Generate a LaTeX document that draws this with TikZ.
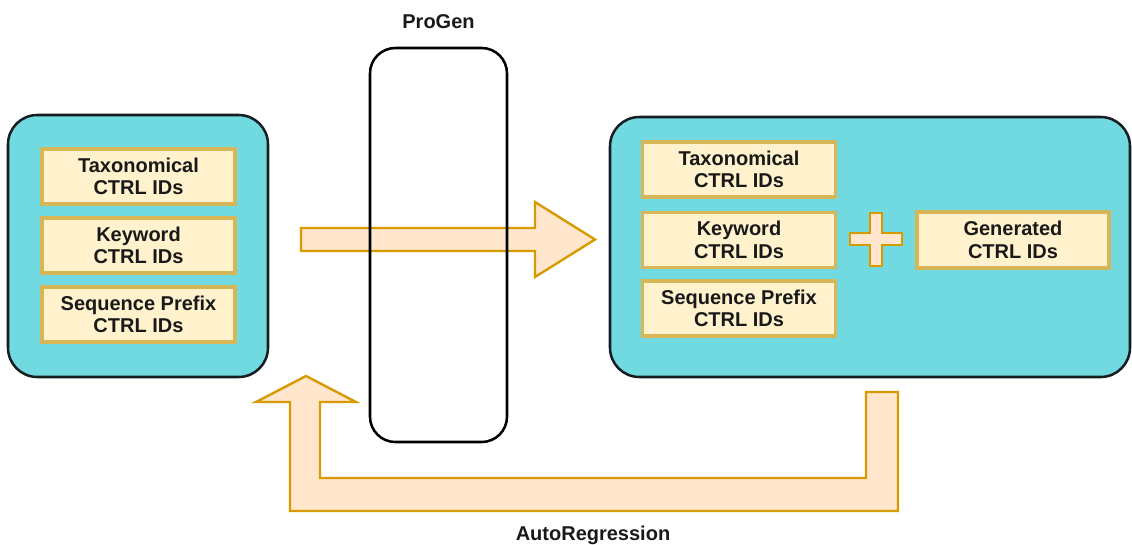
\documentclass[tikz,border=0pt]{standalone}
\usepackage{fontspec}
\setmainfont{Liberation Sans}
\definecolor{cyanfill}{RGB}{113,218,224}
\definecolor{darkstroke}{RGB}{22,30,34}
\definecolor{boxfill}{HTML}{FFF2CC}
\definecolor{boxstroke}{HTML}{D6B656}
\definecolor{arrfill}{HTML}{FFE6CC}
\definecolor{arrstroke}{HTML}{D79B00}
\tikzset{
  container/.style={draw=darkstroke, fill=cyanfill, line width=1.9pt, rounded corners=22pt, rectangle, inner sep=0pt},
  idbox/.style={draw=boxstroke, fill=boxfill, line width=2.7pt, rectangle, inner sep=0pt,
    minimum width=144.75pt, minimum height=41.25pt, align=center,
    font=\fontsize{15}{17}\selectfont\bfseries, text=black!90},
  bigarrow/.style={draw=arrstroke, fill=arrfill, line width=1.8pt, line join=miter},
  progenbox/.style={draw=black, line width=1.9pt, rounded corners=19pt, rectangle, inner sep=0pt},
  lbl/.style={font=\fontsize{15}{17}\selectfont\bfseries, text=black!90, inner sep=0pt}
}
\begin{document}
\begin{tikzpicture}[x=0.75pt,y=-0.75pt]
\path[use as bounding box] (0,0) rectangle (1132,544);
% containers
\node[container, minimum width=195pt, minimum height=196.5pt] (left) at (138,246) {};
\node[container, minimum width=390pt, minimum height=195pt] (right) at (870,247) {};
% left boxes
\node[idbox] (lt) at (138.5,176.5) {Taxonomical\\CTRL IDs};
\node[idbox] (lk) at (138.5,245.5) {Keyword\\CTRL IDs};
\node[idbox] (ls) at (138.5,314.5) {Sequence Prefix\\CTRL IDs};
% right boxes
\node[idbox] (rt) at (739,169.5) {Taxonomical\\CTRL IDs};
\node[idbox] (rk) at (739,240) {Keyword\\CTRL IDs};
\node[idbox] (rs) at (739,308.5) {Sequence Prefix\\CTRL IDs};
\node[idbox, minimum width=144pt, minimum height=42pt] (gen) at (1013,240) {Generated\\CTRL IDs};
% forward arrow
\draw[bigarrow] (301,228) -- (535,228) -- (535,202) -- (595,239.5) -- (535,277) -- (535,251) -- (301,251) -- cycle;
% ProGen box
\node[progenbox, minimum width=102.75pt, minimum height=295.5pt] (progen) at (438.5,245) {};
\node[lbl] (progenlbl) at (438.5,22) {ProGen};
% autoregression U-arrow
\draw[bigarrow] (866,392) -- (898,392) -- (898,511) -- (290,511) -- (290,402) -- (256,402) -- (306,376) -- (356,402) -- (320,402) -- (320,478) -- (866,478) -- cycle;
\node[lbl] (arlbl) at (593,535) {AutoRegression};
% plus sign
\draw[bigarrow, line width=1.4pt] (850,233) -- (870,233) -- (870,213) -- (882,213) -- (882,233) -- (902,233) -- (902,245) -- (882,245) -- (882,266) -- (870,266) -- (870,245) -- (850,245) -- cycle;
\end{tikzpicture}
\end{document}
